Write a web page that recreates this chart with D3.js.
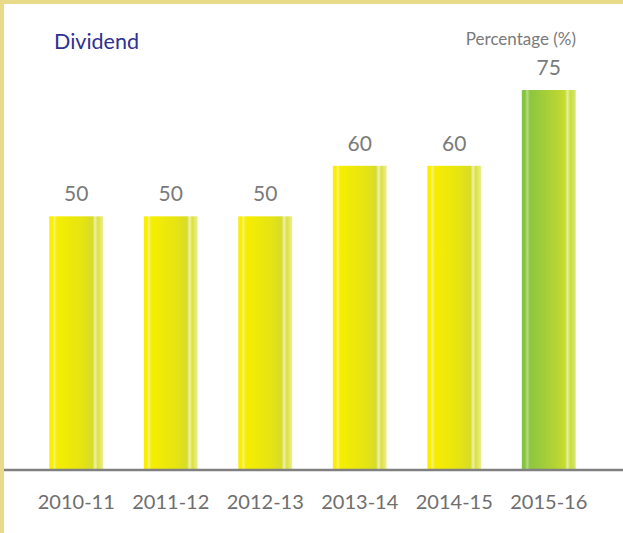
<!DOCTYPE html>
<html>
<head>
<meta charset="utf-8">
<script src="https://cdn.jsdelivr.net/npm/d3@7"></script>
<style>
  body { margin: 0; background: #fff; }
  svg { display: block; }
</style>
</head>
<body>
<svg id="chart" width="623" height="533"></svg>
<script>
const years = ["2010-11", "2011-12", "2012-13", "2013-14", "2014-15", "2015-16"];
const dividend = [50, 50, 50, 60, 60, 75];

const svg = d3.select("#chart");
const font = "Lato, 'Open Sans', sans-serif";

// frame on top and left
svg.append("rect").attr("x", 0).attr("y", 0).attr("width", 623).attr("height", 533).attr("fill", "#e9da8a");
svg.append("rect").attr("x", 4).attr("y", 4).attr("width", 619).attr("height", 529).attr("fill", "#fff");

const defs = svg.append("defs");
function barGradient(id, stops) {
  const g = defs.append("linearGradient").attr("id", id)
    .attr("x1", "0%").attr("x2", "100%").attr("y1", "0%").attr("y2", "0%");
  stops.forEach(s => g.append("stop").attr("offset", s[0]).attr("stop-color", s[1]));
}
barGradient("yellowBar", [
  [0, "#fcee00"], [0.06, "#fcee00"], [0.09, "#f7f27a"], [0.14, "#f6ee00"],
  [0.6, "#e6e412"], [0.8, "#d6dc2a"], [0.85, "#eef0b0"], [0.9, "#dde13a"], [1, "#ecef9a"]
]);
barGradient("greenBar", [
  [0, "#84c340"], [0.06, "#86c440"], [0.1, "#b8dc88"], [0.15, "#8cc63f"],
  [0.6, "#b2d336"], [0.8, "#c6dc2e"], [0.85, "#e4efa8"], [0.9, "#cade3a"], [1, "#d4e67c"]
]);

const x = d3.scaleBand().domain(years).range([29, 596]).paddingInner(0.43).paddingOuter(0.215);
const y = d3.scaleLinear().domain([0, 75]).range([469, 90]);

svg.selectAll("rect.bar")
  .data(dividend)
  .join("rect")
  .attr("class", "bar")
  .attr("x", (d, i) => x(years[i]))
  .attr("width", x.bandwidth())
  .attr("y", d => y(d))
  .attr("height", d => y(0) - y(d))
  .attr("fill", (d, i) => i === dividend.length - 1 ? "url(#greenBar)" : "url(#yellowBar)");

svg.selectAll("text.val")
  .data(dividend)
  .join("text")
  .attr("class", "val")
  .attr("x", (d, i) => x(years[i]) + x.bandwidth() / 2)
  .attr("y", d => y(d) - 15)
  .attr("text-anchor", "middle")
  .attr("font-family", font)
  .attr("font-size", 21)
  .attr("fill", "#7a7a7a")
  .text(d => d);

// baseline across the panel
svg.append("line")
  .attr("x1", 4).attr("x2", 623)
  .attr("y1", y(0) + 1).attr("y2", y(0) + 1)
  .attr("stroke", "#808080").attr("stroke-width", 2.5);

const xAxis = svg.append("g")
  .attr("transform", `translate(0, ${y(0)})`)
  .call(d3.axisBottom(x).tickSize(0).tickPadding(26));
xAxis.select(".domain").remove();
xAxis.selectAll("text")
  .attr("font-family", font)
  .attr("font-size", 20)
  .attr("fill", "#6e6e6e");

svg.append("text")
  .attr("x", 54).attr("y", 49)
  .attr("font-family", font)
  .attr("font-size", 21.5)
  .attr("fill", "#2e3192")
  .text("Dividend");

svg.append("text")
  .attr("x", 576).attr("y", 45)
  .attr("text-anchor", "end")
  .attr("font-family", font)
  .attr("font-size", 17)
  .attr("fill", "#7a7a7a")
  .text("Percentage (%)");
</script>
</body>
</html>
